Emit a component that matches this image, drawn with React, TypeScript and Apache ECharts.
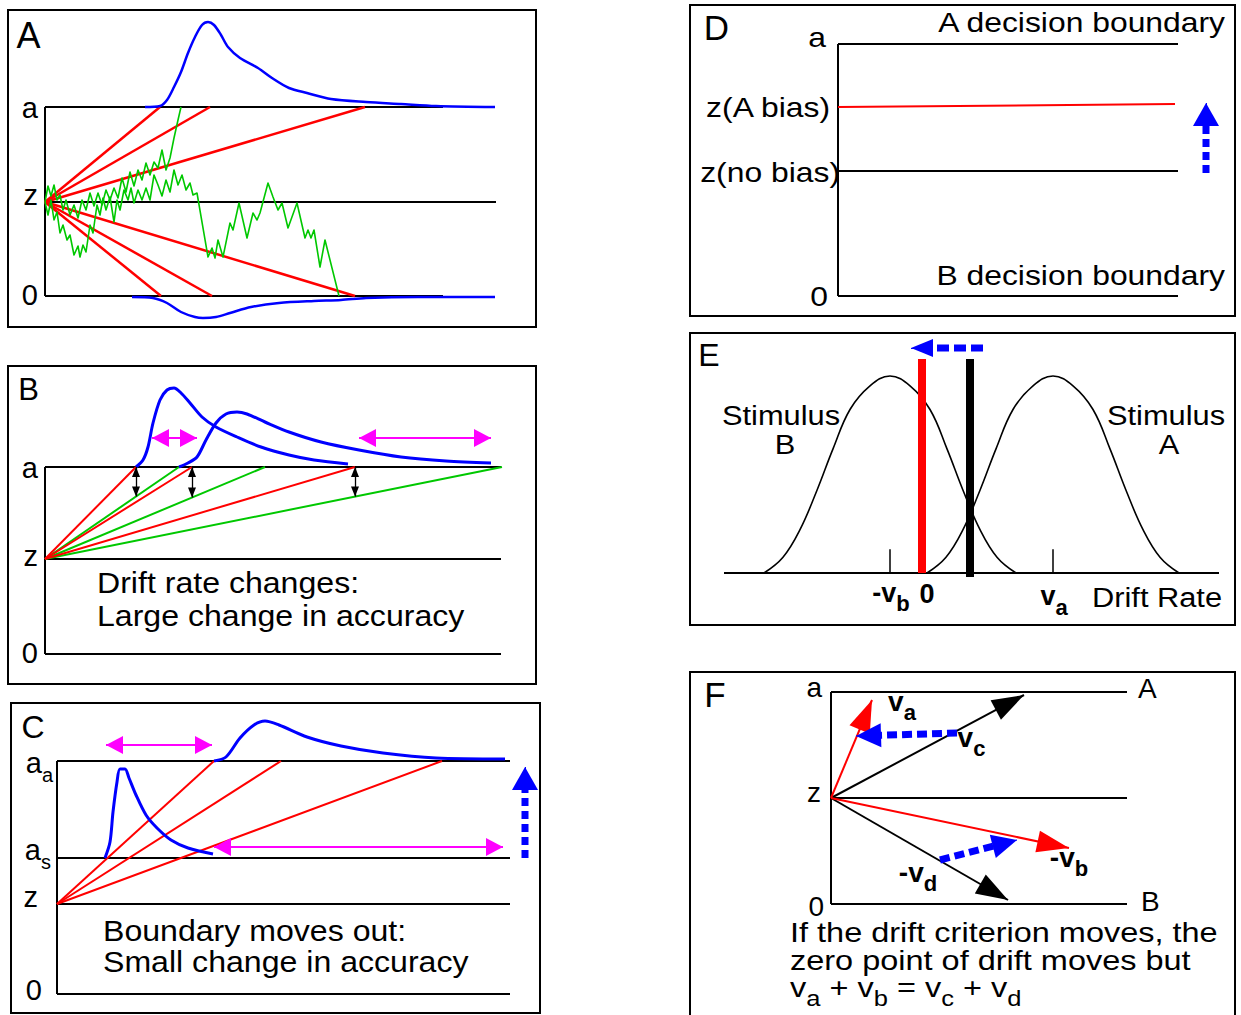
import React, { useEffect, useRef } from "react";
import * as echarts from "echarts";

type P = [number, number];

/* ---------------- Panel A: diffusion process (time vs. evidence) ---------------- */
const A_UPPER = 189; // a
const A_START = 94; // z
const A_BOUNDARY_END = 398;
const A_START_LINE_END = 451;
const A_UPPER_HITS = [115, 165, 320];
const A_LOWER_HITS = [116, 167, 310];
const A_TOP_RT_T = [100, 115, 122, 129, 136, 143, 150, 157, 163, 169, 176, 183, 195, 213, 227, 244, 262, 286, 321, 356, 391, 450];
const A_TOP_RT_D = [0, 1, 7, 20, 35, 54, 70, 82, 85, 82, 72, 60, 49, 39, 29, 19, 14, 8, 5, 3, 1, 0];
const A_BOT_RT_T = [87, 108, 122, 136, 150, 158, 171, 185, 206, 234, 269, 296, 321, 373, 450];
const A_BOT_RT_D = [1, 2, 7, 16, 21, 22, 21, 17, 11, 7, 5, 4, 2, 1, 1];
const A_WALK_UP: P[] = [
  [0, 94], [3, 110], [6, 100], [9, 111], [12, 96], [15, 101], [18, 86], [21, 96], [25, 81], [29, 91],
  [33, 78], [37, 96], [41, 86], [45, 103], [49, 90], [53, 103], [57, 91], [61, 106], [65, 96], [69, 108],
  [73, 98], [77, 118], [81, 104], [85, 124], [89, 110], [93, 126], [97, 116], [101, 133], [105, 121],
  [109, 134], [113, 128], [117, 146], [121, 126], [125, 138], [129, 158], [133, 176], [136, 189],
];
const A_WALK_DOWN: P[] = [
  [0, 94], [3, 81], [6, 96], [9, 76], [12, 84], [15, 63], [18, 71], [22, 56], [25, 61], [29, 41], [33, 50],
  [35, 39], [38, 51], [41, 44], [45, 71], [48, 63], [52, 91], [55, 81], [58, 98], [61, 86], [65, 99],
  [69, 74], [72, 96], [75, 86], [79, 106], [83, 96], [86, 108], [89, 93], [93, 106], [97, 96], [101, 108],
  [105, 96], [109, 121], [113, 111], [117, 100], [121, 116], [125, 104], [129, 126], [133, 111], [137, 121],
  [141, 106], [145, 113], [148, 101], [152, 103], [163, 39], [167, 48], [170, 38], [173, 56], [178, 39],
  [185, 73], [188, 66], [194, 93], [202, 58], [208, 83], [212, 76], [215, 83], [223, 113], [228, 99],
  [233, 86], [237, 93], [243, 68], [252, 93], [260, 58], [263, 66], [266, 58], [269, 66], [275, 29],
  [280, 56], [294, 0],
];

/* ---------------- Panel B: drift rate changes ---------------- */
const B_UPPER = 187;
const B_START = 95;
const B_LINE_END = 456;
const B_RED_HITS = [91, 147, 310];
const B_GREEN_HITS = [134, 220, 457];
const B_FAST_T = [91, 98, 103, 108, 115, 122, 129, 136, 145, 157, 171, 192, 216, 244, 269, 303];
const B_FAST_D = [0, 7, 20, 44, 67, 77, 79, 74, 64, 50, 40, 30, 20, 12, 7, 3];
const B_SLOW_T = [134, 143, 152, 161, 171, 181, 192, 202, 220, 244, 276, 314, 356, 401, 446];
const B_SLOW_D = [0, 4, 10, 27, 44, 53, 55, 53, 45, 35, 25, 17, 10, 6, 4];
const B_SHIFT_LEVEL = 216;
const B_SHIFT_FAST = [107, 152];
const B_SHIFT_SLOW = [314, 446];

/* ---------------- Panel C: boundary moves out ---------------- */
const C_UPPER_A = 233;
const C_UPPER_S = 136;
const C_START = 90;
const C_LINE_END = 453;
const C_RED_HITS = [157, 224, 385];
const C_FAST_T = [48, 53, 56, 60, 63, 68, 72, 79, 89, 100, 114, 131, 156];
const C_FAST_D = [0, 16, 46, 76, 89, 89, 80, 63, 43, 30, 18, 10, 4];
const C_SLOW_T = [157, 169, 183, 197, 208, 222, 250, 284, 326, 379, 448];
const C_SLOW_D = [0, 4, 23, 36, 40, 36, 24, 15, 8, 3, 2];
const C_SHIFT_UP_LEVEL = 249;
const C_SHIFT_UP = [49, 155];
const C_SHIFT_LOW_LEVEL = 147;
const C_SHIFT_LOW = [157, 446];
const C_MOVE_T = 468;
const C_MOVE = [136, 227];

/* ---------------- Panel D: starting point bias ---------------- */
const D_UPPER = 252;
const D_NO_BIAS = 125;
const D_LINE_END = 340;
const D_BIAS_LINE: P[] = [[0, 189], [337, 192]];
const D_MOVE_T = 368;
const D_MOVE = [123, 193];

/* ---------------- Panel E: drift distributions ---------------- */
const E_AXIS = [-1.98, 2.97];
const E_B_X = [-1.58, -1.39, -1.22, -1.05, -0.89, -0.72, -0.52, -0.32, -0.12, 0.08, 0.25, 0.41, 0.58, 0.75, 0.94];
const E_B_Y = [0, 0.08, 0.22, 0.42, 0.63, 0.83, 0.95, 1, 0.95, 0.83, 0.63, 0.42, 0.22, 0.08, 0];
const E_A_X = [0.05, 0.24, 0.41, 0.58, 0.74, 0.91, 1.11, 1.31, 1.51, 1.71, 1.88, 2.04, 2.21, 2.38, 2.57];
const E_A_Y = [0, 0.08, 0.22, 0.42, 0.63, 0.83, 0.95, 1, 0.95, 0.83, 0.63, 0.42, 0.22, 0.08, 0];
const E_MEANS = [-0.32, 1.31];
const E_TICK_H = 0.12;
const E_NEW_CRITERION = 0;
const E_OLD_CRITERION = 0.48;
const E_CRITERION_TOP = 1.086;
const E_SHIFT_LEVEL = 1.142;
const E_SHIFT = [0.61, -0.11];

/* ---------------- Panel F: drift vectors ---------------- */
const F_UPPER = 212;
const F_START = 106;
const F_LINE_END = 296;
const F_VA: P = [41, 204];
const F_VC: P = [193, 209];
const F_VB: P = [238, 56];
const F_VD: P = [177, 4];
const F_SHIFT_UP: [P, P] = [[126, 171], [25, 168]];
const F_SHIFT_DOWN: [P, P] = [[109, 44], [186, 64]];

const RED = "#ff0000";
const GREEN = "#00c800";
const BLUE = "#0000ff";
const MAGENTA = "#ff00ff";
const BLACK = "#000000";
const FONT = '"Liberation Sans", Arial, Helvetica, sans-serif';

const GRIDS = [
  { left: 45, top: 6, width: 500, height: 330, x: [0, 500], y: [-40, 290] },
  { left: 45, top: 364, width: 500, height: 320, x: [0, 500], y: [-30, 290] },
  { left: 57, top: 704, width: 500, height: 310, x: [0, 500], y: [-20, 290] },
  { left: 838, top: 6, width: 400, height: 310, x: [0, 400], y: [-20, 290] },
  { left: 724, top: 336.6, width: 495, height: 295.5, x: [-1.98, 2.97], y: [-0.3, 1.2] },
  { left: 831, top: 674, width: 400, height: 250, x: [0, 400], y: [-20, 230] },
];
// units per pixel for each grid (for arrow-head shortening)
const UPP: P[] = GRIDS.map((g) => [(g.x[1] - g.x[0]) / g.width, (g.y[1] - g.y[0]) / g.height]);

function buildOption() {
  const S: any[] = [];
  const L = (g: number, data: P[], color: string, width: number, o: any = {}) =>
    S.push({
      type: "line", xAxisIndex: g, yAxisIndex: g, data, symbol: "none", showSymbol: false,
      clip: false, silent: true, smooth: o.smooth ?? false, z: o.z ?? 2, animation: false,
      lineStyle: { color, width, cap: "butt", join: "round", type: o.dash ?? "solid" },
      emphasis: { disabled: true },
    });
  const arrows = (g: number, pairs: [P, P][], color: string, width: number, head: [number, number], both = false, z = 6) =>
    S.push({
      type: "line", xAxisIndex: g, yAxisIndex: g, data: [], silent: true, clip: false, z, animation: false,
      markLine: {
        silent: true, animation: false, z,
        symbol: [both ? "triangle" : "none", "triangle"],
        symbolSize: head,
        symbolOffset: [[0, "50%"], [0, "50%"]],
        label: { show: false },
        emphasis: { disabled: true },
        lineStyle: { color, width, type: "solid", opacity: 1 },
        itemStyle: { color },
        data: pairs.map(([p, q]) => [{ coord: p }, { coord: q }]),
      },
    });
  const dashedArrow = (g: number, tail: P, tip: P, color: string, width: number, dash: number[], head: [number, number]) => {
    const [ux, uy] = UPP[g];
    const dx = (tip[0] - tail[0]) / ux, dy = (tip[1] - tail[1]) / uy;
    const k = (head[1] * 0.7) / Math.hypot(dx, dy);
    const base: P = [tip[0] - (tip[0] - tail[0]) * k, tip[1] - (tip[1] - tail[1]) * k];
    L(g, [tail, base], color, width, { dash, z: 6 });
    arrows(g, [[base, tip]], color, 1, head, false, 7);
  };
  const curve = (g: number, ts: number[], ds: number[], base: number, sign: number): P[] =>
    ts.map((t, i) => [t, base + sign * ds[i]] as P);

  /* ---- A ---- */
  L(0, [[0, A_UPPER], [A_BOUNDARY_END, A_UPPER]], BLACK, 2);
  L(0, [[0, 0], [A_BOUNDARY_END, 0]], BLACK, 2);
  L(0, [[0, A_START], [A_START_LINE_END, A_START]], BLACK, 2);
  L(0, [[0, 0], [0, A_UPPER]], BLACK, 2);
  A_UPPER_HITS.forEach((t) => L(0, [[0, A_START], [t, A_UPPER]], RED, 2.5, { z: 3 }));
  A_LOWER_HITS.forEach((t) => L(0, [[0, A_START], [t, 0]], RED, 2.5, { z: 3 }));
  L(0, A_WALK_UP, GREEN, 1.6, { z: 3.5 });
  L(0, A_WALK_DOWN, GREEN, 1.6, { z: 3.5 });
  L(0, curve(0, A_TOP_RT_T, A_TOP_RT_D, A_UPPER, 1), BLUE, 2.5, { smooth: 0.3, z: 4 });
  L(0, curve(0, A_BOT_RT_T, A_BOT_RT_D, 0, -1), BLUE, 2.5, { smooth: 0.3, z: 4 });

  /* ---- B ---- */
  L(1, [[0, B_UPPER], [B_LINE_END, B_UPPER]], BLACK, 2);
  L(1, [[0, B_START], [B_LINE_END, B_START]], BLACK, 2);
  L(1, [[0, 0], [B_LINE_END, 0]], BLACK, 2);
  L(1, [[0, 0], [0, B_UPPER]], BLACK, 2);
  B_GREEN_HITS.forEach((t) => L(1, [[0, B_START], [t, B_UPPER]], GREEN, 2, { z: 3 }));
  B_RED_HITS.forEach((t) => L(1, [[0, B_START], [t, B_UPPER]], RED, 2, { z: 3.2 }));
  L(1, curve(1, B_FAST_T, B_FAST_D, B_UPPER, 1), BLUE, 3, { smooth: 0.3, z: 4 });
  L(1, curve(1, B_SLOW_T, B_SLOW_D, B_UPPER, 1), BLUE, 3, { smooth: 0.3, z: 4 });
  arrows(
    1,
    B_RED_HITS.map((t, i) => [[t, B_UPPER], [t, B_START + ((B_UPPER - B_START) * t) / B_GREEN_HITS[i]]] as [P, P]),
    BLACK, 1.3, [8, 10], true
  );
  arrows(1, [
    [[B_SHIFT_FAST[0], B_SHIFT_LEVEL], [B_SHIFT_FAST[1], B_SHIFT_LEVEL]],
    [[B_SHIFT_SLOW[0], B_SHIFT_LEVEL], [B_SHIFT_SLOW[1], B_SHIFT_LEVEL]],
  ], MAGENTA, 2, [18, 17], true);

  /* ---- C ---- */
  [C_UPPER_A, C_UPPER_S, C_START, 0].forEach((y) => L(2, [[0, y], [C_LINE_END, y]], BLACK, 2));
  L(2, [[0, 0], [0, C_UPPER_A]], BLACK, 2);
  C_RED_HITS.forEach((t) => L(2, [[0, C_START], [t, C_UPPER_A]], RED, 2, { z: 3 }));
  L(2, curve(2, C_FAST_T, C_FAST_D, C_UPPER_S, 1), BLUE, 3, { smooth: 0.3, z: 4 });
  L(2, curve(2, C_SLOW_T, C_SLOW_D, C_UPPER_A, 1), BLUE, 3, { smooth: 0.3, z: 4 });
  arrows(2, [
    [[C_SHIFT_UP[0], C_SHIFT_UP_LEVEL], [C_SHIFT_UP[1], C_SHIFT_UP_LEVEL]],
    [[C_SHIFT_LOW[0], C_SHIFT_LOW_LEVEL], [C_SHIFT_LOW[1], C_SHIFT_LOW_LEVEL]],
  ], MAGENTA, 2, [18, 17], true);
  dashedArrow(2, [C_MOVE_T, C_MOVE[0]], [C_MOVE_T, C_MOVE[1]], BLUE, 7, [8, 5], [26, 23]);

  /* ---- D ---- */
  [D_UPPER, D_NO_BIAS, 0].forEach((y) => L(3, [[0, y], [D_LINE_END, y]], BLACK, 2));
  L(3, [[0, 0], [0, D_UPPER]], BLACK, 2);
  L(3, D_BIAS_LINE, RED, 2, { z: 3 });
  dashedArrow(3, [D_MOVE_T, D_MOVE[0]], [D_MOVE_T, D_MOVE[1]], BLUE, 7, [8, 5], [26, 23]);

  /* ---- E ---- */
  L(4, [[E_AXIS[0], 0], [E_AXIS[1], 0]], BLACK, 2);
  E_MEANS.forEach((m) => L(4, [[m, 0], [m, E_TICK_H]], BLACK, 1.5));
  L(4, E_B_X.map((x, i) => [x, E_B_Y[i]] as P), BLACK, 1.6, { smooth: 0.4 });
  L(4, E_A_X.map((x, i) => [x, E_A_Y[i]] as P), BLACK, 1.6, { smooth: 0.4 });
  L(4, [[E_NEW_CRITERION, 0], [E_NEW_CRITERION, E_CRITERION_TOP]], RED, 8, { z: 4 });
  L(4, [[E_OLD_CRITERION, -0.02], [E_OLD_CRITERION, E_CRITERION_TOP]], BLACK, 8, { z: 4 });
  dashedArrow(4, [E_SHIFT[0], E_SHIFT_LEVEL], [E_SHIFT[1], E_SHIFT_LEVEL], BLUE, 7, [12, 5], [18, 22]);

  /* ---- F ---- */
  [F_UPPER, F_START, 0].forEach((y) => L(5, [[0, y], [F_LINE_END, y]], BLACK, 2));
  L(5, [[0, 0], [0, F_UPPER]], BLACK, 2);
  const Z: P = [0, F_START];
  arrows(5, [[Z, F_VC], [Z, F_VD]], BLACK, 2, [22, 32]);
  arrows(5, [[Z, F_VA], [Z, F_VB]], RED, 2, [22, 32]);
  dashedArrow(5, F_SHIFT_UP[0], F_SHIFT_UP[1], BLUE, 7, [10, 5], [24, 25]);
  dashedArrow(5, F_SHIFT_DOWN[0], F_SHIFT_DOWN[1], BLUE, 7, [10, 5], [24, 25]);

  /* ---- graphics: panel frames and texts ---- */
  const box = (x: number, y: number, w: number, h: number) => ({
    type: "rect", silent: true, z: 50, shape: { x, y, width: w, height: h },
    style: { fill: "none", stroke: BLACK, lineWidth: 2 },
  });
  const T = (x: number, y: number, text: string, o: any = {}) => ({
    type: "text", x, y, scaleX: o.sx ?? 1, z: 100, silent: true,
    style: {
      text, fontSize: o.size ?? 28, fontFamily: FONT, fontWeight: o.bold ? "bold" : "normal", fill: BLACK,
      textAlign: o.align ?? "left", textVerticalAlign: "middle", rich: o.rich,
    },
  });
  const sub = (size: number, subSize: number, bold: boolean) => ({
    m: { fontSize: size, lineHeight: 44, fontFamily: FONT, fontWeight: bold ? "bold" : "normal", fill: BLACK },
    s: { fontSize: subSize, verticalAlign: "bottom", fontFamily: FONT, fontWeight: bold ? "bold" : "normal", fill: BLACK },
  });

  const graphic = [
    box(8, 10, 528, 317),
    box(8, 366, 528, 318),
    box(11, 703, 529, 310),
    box(690, 5, 545, 311),
    box(690, 333, 545, 292),
    box(690, 672, 545, 350),

    T(28.5, 35.5, "A", { size: 36, align: "center" }),
    T(38, 107.5, "a", { size: 29, align: "right" }),
    T(38, 195, "z", { size: 29, align: "right" }),
    T(38, 295, "0", { size: 29, align: "right" }),

    T(28.5, 389, "B", { size: 31, align: "center" }),
    T(38, 467.5, "a", { size: 29, align: "right" }),
    T(38, 555.5, "z", { size: 29, align: "right" }),
    T(38, 652.5, "0", { size: 29, align: "right" }),
    T(97, 582.5, "Drift rate changes:", { size: 30, sx: 1.07 }),
    T(97, 616, "Large change in accuracy", { size: 30, sx: 1.07 }),

    T(33, 726.5, "C", { size: 32, align: "center" }),
    T(53, 763, "{m|a}{s|a}", { align: "right", rich: sub(29, 20, false) }),
    T(51, 849.5, "{m|a}{s|s}", { align: "right", rich: sub(29, 20, false) }),
    T(38, 897, "z", { size: 29, align: "right" }),
    T(42, 990, "0", { size: 29, align: "right" }),
    T(103, 931, "Boundary moves out:", { size: 30, sx: 1.07 }),
    T(103, 962, "Small change in accuracy", { size: 30, sx: 1.07 }),

    T(716.5, 27.5, "D", { size: 35, align: "center" }),
    T(826, 37.5, "a", { size: 27, align: "right", sx: 1.18 }),
    T(830, 107, "z(A bias)", { size: 27, align: "right", sx: 1.18 }),
    T(840, 172, "z(no bias)", { size: 27, align: "right", sx: 1.18 }),
    T(828, 296.5, "0", { size: 27, align: "right", sx: 1.18 }),
    T(1225, 22, "A decision boundary", { size: 27, align: "right", sx: 1.18 }),
    T(1225, 275, "B decision boundary", { size: 27, align: "right", sx: 1.18 }),

    T(709, 354.5, "E", { size: 32, align: "center" }),
    T(781, 415, "Stimulus", { size: 28, align: "center", sx: 1.1 }),
    T(785, 444, "B", { size: 28, align: "center", sx: 1.1 }),
    T(1166, 415, "Stimulus", { size: 28, align: "center", sx: 1.1 }),
    T(1169, 444, "A", { size: 28, align: "center", sx: 1.1 }),
    T(1092, 597.5, "Drift Rate", { size: 28, sx: 1.1 }),
    T(891, 592.5, "{m|-v}{s|b}", { align: "center", rich: sub(27, 22, true) }),
    T(927, 593.5, "0", { size: 27, bold: true, align: "center" }),
    T(1054, 596, "{m|v}{s|a}", { align: "center", rich: sub(27, 22, true) }),

    T(715, 694.5, "F", { size: 35, align: "center" }),
    T(822, 687.5, "a", { size: 28, align: "right" }),
    T(821, 792, "z", { size: 28, align: "right" }),
    T(824, 906, "0", { size: 28, align: "right" }),
    T(1138, 688.5, "A", { size: 28 }),
    T(1141, 901, "B", { size: 28 }),
    T(902, 701, "{m|v}{s|a}", { align: "center", rich: sub(28, 22, true) }),
    T(971.5, 737.5, "{m|v}{s|c}", { align: "center", rich: sub(28, 22, true) }),
    T(1069, 857.5, "{m|-v}{s|b}", { align: "center", rich: sub(28, 22, true) }),
    T(918, 872.5, "{m|-v}{s|d}", { align: "center", rich: sub(28, 22, true) }),
    T(790, 932, "If the drift criterion moves, the", { size: 28, sx: 1.16 }),
    T(790, 960, "zero point of drift moves but", { size: 28, sx: 1.16 }),
    T(790, 987, "{m|v}{s|a}{m| + v}{s|b}{m| = v}{s|c}{m| + v}{s|d}", { rich: sub(28, 22, false), sx: 1.16 }),
  ];

  return {
    animation: false,
    backgroundColor: "#ffffff",
    grid: GRIDS.map((g) => ({ left: g.left, top: g.top, width: g.width, height: g.height, containLabel: false })),
    xAxis: GRIDS.map((g, i) => ({ type: "value", gridIndex: i, min: g.x[0], max: g.x[1], show: false })),
    yAxis: GRIDS.map((g, i) => ({ type: "value", gridIndex: i, min: g.y[0], max: g.y[1], show: false })),
    series: S,
    graphic,
  };
}

export default function App() {
  const ref = useRef<HTMLDivElement>(null);
  useEffect(() => {
    const chart = echarts.init(ref.current!, null, { renderer: "svg", width: 1241, height: 1015 });
    chart.setOption(buildOption() as any);
    return () => chart.dispose();
  }, []);
  return (
    <div
      ref={ref}
      style={{ position: "absolute", left: 0, top: 0, width: 1241, height: 1015, background: "#ffffff" }}
    />
  );
}
